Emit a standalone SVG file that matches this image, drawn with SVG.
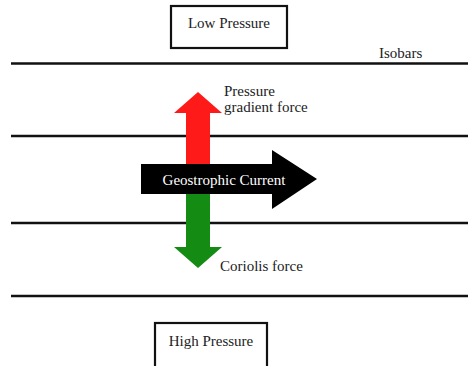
<svg xmlns="http://www.w3.org/2000/svg" width="468" height="366" viewBox="0 0 468 366">
<style>
.t{font-family:"Liberation Serif","DejaVu Serif",serif;font-size:15px;fill:#222}
.box{fill:#fff;stroke:#111;stroke-width:2.2}
.iso{stroke:#111;stroke-width:2.4}
</style>
<rect width="468" height="366" fill="#fff"/>
<g id="isobars">
<line class="iso" x1="11" y1="63.5" x2="468" y2="63.5"/>
<line class="iso" x1="11" y1="136" x2="468" y2="136"/>
<line class="iso" x1="11" y1="223" x2="468" y2="223"/>
<line class="iso" x1="11" y1="296" x2="468" y2="296"/>
<text class="t" x="379" y="58">Isobars</text>
</g>
<g id="low">
<rect class="box" x="171" y="6" width="116" height="42"/>
<text class="t" x="229" y="28" text-anchor="middle">Low Pressure</text>
</g>
<g id="high">
<rect class="box" x="155" y="323" width="112" height="46"/>
<text class="t" x="211" y="346" text-anchor="middle">High Pressure</text>
</g>
<g id="pgf">
<polygon fill="#ff1a1a" points="198,92 222,113 210,113 210,165 186,165 186,113 174,113"/>
<text class="t" x="224" y="96">Pressure</text>
<text class="t" x="224" y="112">gradient force</text>
</g>
<g id="coriolis">
<polygon fill="#148c14" points="186,193 210,193 210,247 222,247 198,268 174,247 186,247"/>
<text class="t" x="220" y="271">Coriolis force</text>
</g>
<g id="current">
<polygon fill="#000" points="141,164 272,164 272,150 317,179 272,209 272,194 141,194"/>
<text class="t" x="224" y="185" text-anchor="middle" style="fill:#fff">Geostrophic Current</text>
</g>
</svg>
